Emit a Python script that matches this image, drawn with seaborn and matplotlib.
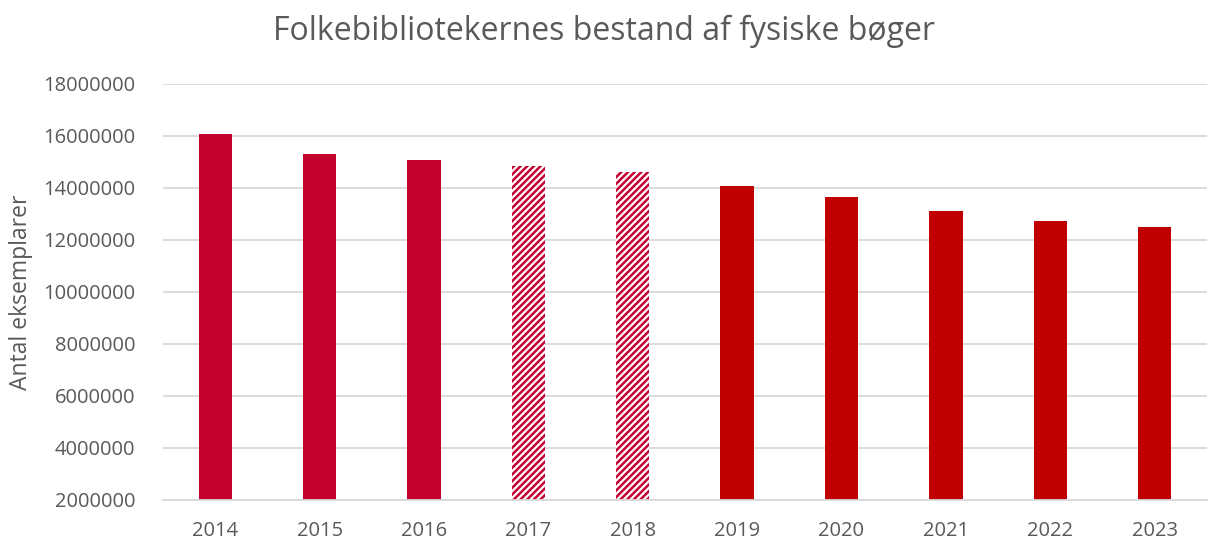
import numpy as np
import pandas as pd
import matplotlib.pyplot as plt
import seaborn as sns

years = ['2014', '2015', '2016', '2017', '2018', '2019', '2020', '2021', '2022', '2023']
books = [16060000, 15300000, 15080000, 14850000, 14600000,
         14080000, 13650000, 13100000, 12730000, 12500000]
bar_colors = ['#C4002F', '#C4002F', '#C4002F', '#FFFFFF', '#FFFFFF',
              '#C00000', '#C00000', '#C00000', '#C00000', '#C00000']
hatched = ['2017', '2018']

sns.set_theme(style='white')
plt.rcParams['font.family'] = ['Open Sans', 'DejaVu Sans']
plt.rcParams['hatch.color'] = '#C4002F'
plt.rcParams['hatch.linewidth'] = 1.8

df = pd.DataFrame({'year': years, 'books': books})

fig = plt.figure(figsize=(12.08, 5.41), dpi=100)
ax = fig.add_axes([0.135, 0.0758, 0.864, 0.769])
sns.barplot(data=df, x='year', y='books', hue='year', palette=bar_colors,
            legend=False, width=0.32, saturation=1, ax=ax)

for patch, yr in zip(ax.patches, years):
    patch.set_linewidth(0)
    if yr in hatched:
        patch.set_hatch('/////')
        patch.set_edgecolor('#C4002F')

ax.set_ylim(2000000, 18000000)
ax.set_yticks(range(2000000, 18000001, 2000000))
ax.set_yticklabels([str(v) for v in range(2000000, 18000001, 2000000)])
ax.yaxis.grid(True, color='#D9D9D9', linewidth=1.3)
ax.set_axisbelow(True)
for s in ['top', 'right', 'left']:
    ax.spines[s].set_visible(False)
ax.spines['bottom'].set_color('#D9D9D9')
ax.spines['bottom'].set_linewidth(1.3)
ax.tick_params(axis='both', length=0, labelsize=14.5, colors='#595959')
ax.tick_params(axis='y', pad=20)
ax.tick_params(axis='x', pad=15)
ax.set_xlabel('')
ax.set_ylabel('Antal eksemplarer', fontsize=16.5, color='#595959', labelpad=7)
fig.suptitle('Folkebibliotekernes bestand af fysiske bøger', fontsize=23,
             color='#595959', y=0.972)

fig.savefig('out.png', dpi=100)
